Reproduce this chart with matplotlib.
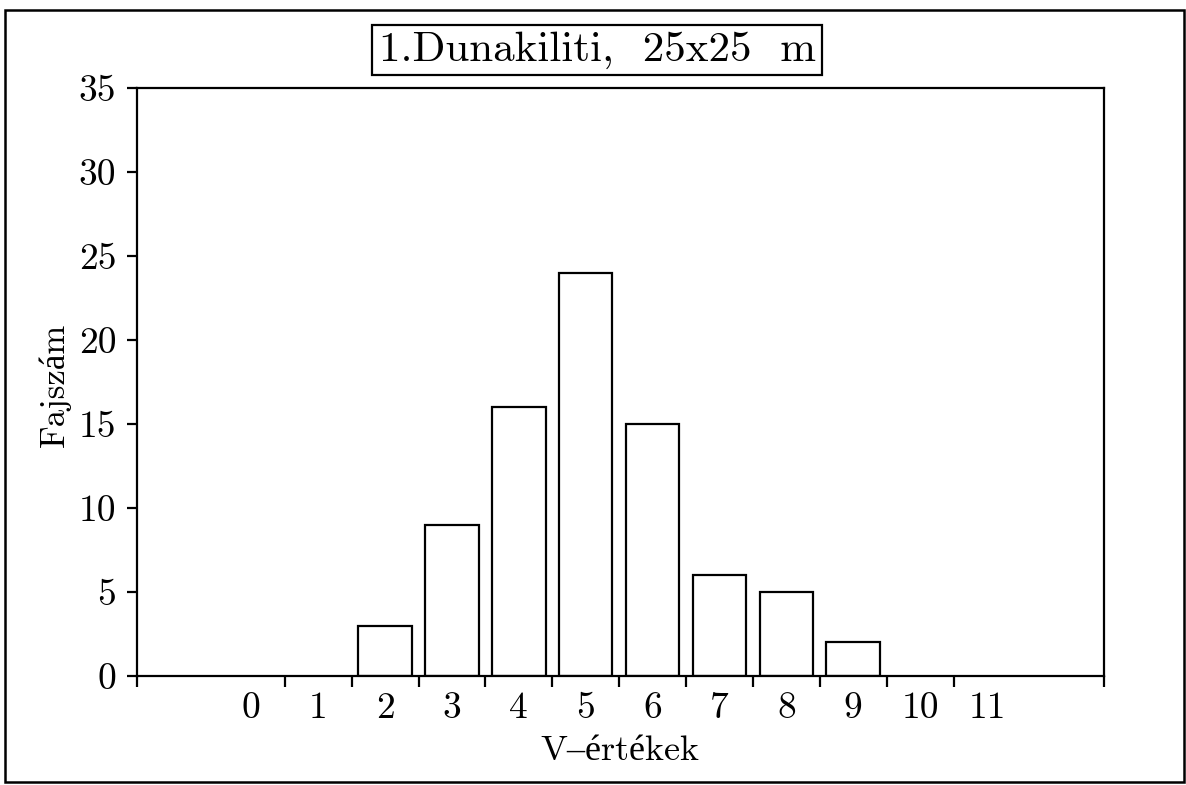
import matplotlib
matplotlib.use("Agg")
import matplotlib.pyplot as plt
from matplotlib.patches import Rectangle

categories = [0, 1, 2, 3, 4, 5, 6, 7, 8, 9, 10, 11]
tick_labels = ["0", "1", "2", "3", "4", "5", "6", "7", "8", "9", "10", "11"]
counts = [0, 0, 3, 9, 16, 24, 15, 6, 5, 2, 0, 0]
yticks = [0, 5, 10, 15, 20, 25, 30, 35]

title = "1.Dunakiliti,  25x25  m"
xlabel = "V–értékek"
ylabel = "Fajszám"

FONT = ["cmr10", "Liberation Serif"]
plt.rcParams["font.family"] = FONT
plt.rcParams["axes.formatter.use_mathtext"] = True

fig = plt.figure(figsize=(11.86, 7.85), dpi=100)
ax = fig.add_axes([137 / 1186, 1 - 676 / 785, (1104 - 137) / 1186, (676 - 88) / 785])

bars_x = [c for c, v in zip(categories, counts) if v > 0]
bars_h = [v for v in counts if v > 0]
ax.bar(bars_x, bars_h, width=0.8, facecolor="white", edgecolor="black", linewidth=1.6)

xmin, xmax = -1.71, 12.75
ax.set_xlim(xmin, xmax)
ax.set_ylim(0, 35)

boundaries = [xmin] + [c + 0.5 for c in categories[:-1]] + [xmax]
ax.set_xticks(boundaries)
ax.set_xticklabels([""] * len(boundaries))
ax.set_xticks(categories, minor=True)
ax.set_xticklabels(tick_labels, minor=True)
ax.tick_params(axis="x", which="major", direction="out", length=8, width=1.6)
ax.tick_params(axis="x", which="minor", length=0, pad=11, labelsize=27)

ax.set_yticks(yticks)
ax.set_yticklabels([str(t) for t in yticks])
ax.tick_params(axis="y", direction="out", length=7, width=1.6, pad=8, labelsize=27)

for s in ax.spines.values():
    s.set_linewidth(1.6)

fig.text(620 / 1186, 1 - 760 / 785, xlabel, ha="center", va="baseline", fontsize=26, family=FONT)
fig.text(55 / 1186, 1 - 385 / 785, ylabel, ha="center", va="center", rotation=90, fontsize=25, family=FONT)

fig.text(597 / 1186, 1 - 50 / 785, title, ha="center", va="center", fontsize=31, family=FONT,
         bbox=dict(boxstyle="square,pad=0.15", facecolor="white", edgecolor="black", linewidth=1.6))

fig.patches.append(Rectangle((5 / 1186, 1 - 782 / 785), (1184 - 5) / 1186, (782 - 10) / 785,
                             transform=fig.transFigure, fill=False, edgecolor="black", linewidth=1.8))

fig.savefig("out.png", dpi=100)
